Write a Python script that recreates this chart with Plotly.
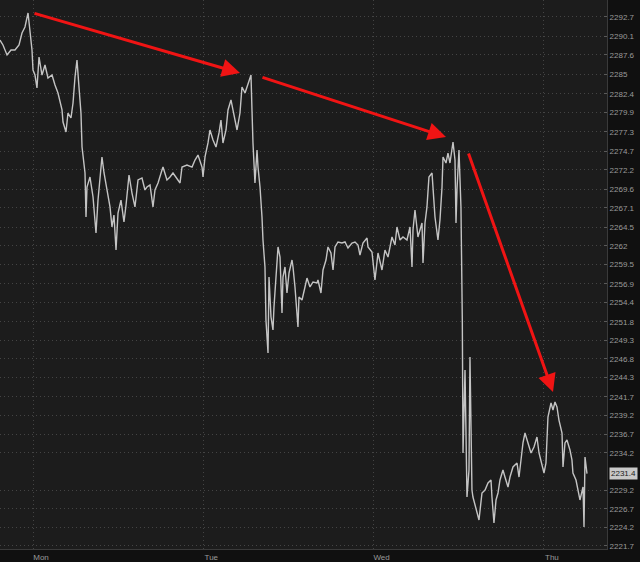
import plotly.graph_objects as go

# Time in hours from Monday 00:00, price in index points
hours = [-4.65, -4.23, -3.66, -3.10, -2.54, -1.97, -1.55, -1.13, -0.70, -0.28, -0.14,
         0.00, 0.28, 0.56, 0.85, 1.27, 1.69, 2.11, 2.68, 3.10, 3.52, 4.09, 4.23, 4.65,
         4.93, 5.35, 5.64, 5.92, 6.20, 6.48, 6.76, 6.91, 7.05, 7.33, 7.47, 7.61, 8.03,
         8.46, 8.88, 9.16, 9.72, 10.01, 10.43, 10.85, 11.13, 11.41, 11.70, 11.98, 12.40,
         12.82, 13.11, 13.53, 13.95, 14.37, 14.80, 15.36, 15.78, 16.06, 16.49, 16.91,
         17.19, 17.62, 18.18, 18.32, 18.88, 19.31, 19.73, 20.29, 20.72, 21.00, 21.70,
         22.41, 22.83, 23.25, 23.82, 23.96, 24.24, 24.66, 24.94, 25.37, 25.79, 26.21,
         26.49, 26.77, 27.20, 27.48, 27.90, 28.18, 28.75, 29.17, 29.45, 29.88, 30.30,
         30.72, 30.86, 31.00, 31.28, 31.57, 31.71, 31.99, 32.27, 32.41, 32.69, 32.83,
         33.12, 33.26, 33.54, 33.82, 33.96, 34.24, 34.53, 34.81, 35.09, 35.23, 35.51,
         35.79, 36.08, 36.50, 36.64, 36.92, 37.20, 37.34, 37.48, 37.91, 38.33, 38.61,
         39.03, 39.46, 40.02, 40.16, 40.58, 40.87, 41.29, 41.57, 41.99, 42.28, 42.56,
         42.98, 43.54, 43.97, 44.39, 44.95, 45.38, 45.80, 46.08, 46.50, 47.07, 47.21,
         47.77, 48.19, 48.62, 49.18, 49.60, 50.03, 50.59, 51.01, 51.29, 51.72, 52.14,
         52.70, 53.13, 53.41, 53.55, 53.83, 54.25, 54.82, 54.96, 55.24, 55.52, 55.80,
         56.23, 56.37, 56.65, 57.07, 57.35, 57.64, 57.78, 58.20, 58.48, 58.76, 59.19,
         59.47, 59.61, 59.75, 60.03, 60.31, 60.45, 60.50, 60.60, 60.88, 61.16, 61.44,
         61.58, 61.72, 61.86, 62.00, 62.29, 62.57, 62.85, 63.27, 63.70, 64.12, 64.54,
         64.68, 64.96, 65.25, 65.53, 65.81, 66.23, 66.51, 66.94, 67.22, 67.64, 68.21,
         68.49, 68.77, 69.05, 69.33, 69.76, 70.18, 70.60, 71.02, 71.31, 71.73, 72.01,
         72.29, 72.43, 72.57, 73.00, 73.28, 73.56, 73.84, 74.12, 74.55, 74.69, 74.97,
         75.25, 75.67, 75.95, 76.09, 76.52, 76.80, 77.08, 77.51, 77.65, 77.79, 78.07]

prices = [2289.61, 2288.94, 2287.60, 2288.27, 2288.27, 2288.94, 2290.55, 2291.36, 2293.24, 2290.01, 2288.27,
          2285.58, 2284.91, 2283.17, 2287.33, 2284.91, 2286.26, 2284.51, 2284.91, 2283.57, 2282.50, 2280.22, 2278.60, 2277.26,
          2279.81, 2279.14, 2281.15, 2284.64, 2286.93, 2283.30, 2279.81, 2275.25, 2273.91, 2271.76, 2265.85, 2269.88, 2271.22,
          2268.54, 2263.71, 2268.13, 2273.91, 2271.76, 2269.48, 2267.20, 2264.51, 2266.12, 2261.42, 2266.39, 2268.13,
          2265.18, 2267.46, 2271.49, 2269.07, 2267.20, 2270.82, 2271.09, 2269.48, 2269.88, 2270.15, 2267.20,
          2269.48, 2270.42, 2272.16, 2272.56, 2270.82, 2271.22, 2271.76, 2271.09, 2270.42, 2272.56, 2272.83,
          2272.56, 2273.50, 2274.17, 2272.56, 2271.22, 2273.91, 2275.79, 2277.53, 2276.19, 2275.25, 2277.13,
          2278.87, 2275.79, 2277.53, 2280.22, 2281.56, 2280.22, 2277.53, 2279.81, 2283.30, 2282.50, 2283.57,
          2284.91, 2280.22, 2275.79, 2270.42, 2274.85, 2272.56, 2269.88, 2265.85, 2262.77, 2259.14, 2252.03,
          2247.60, 2257.80, 2252.43, 2250.69, 2253.77, 2257.80, 2261.83, 2260.48, 2252.97, 2257.80, 2259.14,
          2255.65, 2258.34, 2260.08, 2259.14, 2256.46, 2252.97, 2251.09, 2255.11, 2254.71, 2256.46, 2257.66,
          2256.46, 2257.13, 2256.99, 2257.40, 2255.65, 2258.74, 2260.08, 2261.83, 2261.02, 2258.74, 2261.83,
          2262.50, 2262.36, 2262.50, 2261.69, 2262.36, 2262.50, 2262.09, 2260.75, 2262.36, 2263.03, 2261.83,
          2261.16, 2257.40, 2261.02, 2258.74, 2261.42, 2260.48, 2263.17, 2262.09, 2264.51, 2262.77, 2263.17,
          2262.77, 2264.51, 2259.14, 2264.11, 2266.79, 2263.17, 2265.05, 2259.68, 2265.05, 2267.20, 2271.22,
          2271.76, 2269.48, 2265.85, 2262.77, 2265.45, 2269.88, 2273.91, 2273.10, 2274.44, 2273.10, 2275.92,
          2273.50, 2265.05, 2269.48, 2274.85, 2267.20, 2257.40, 2252.03, 2234.18, 2245.32, 2228.27, 2231.89,
          2247.06, 2237.26, 2229.21, 2228.27, 2227.20, 2226.52, 2225.18, 2228.81, 2229.21, 2230.15, 2230.55,
          2228.27, 2224.78, 2227.87, 2228.81, 2230.55, 2231.89, 2230.95, 2229.61, 2230.95, 2232.30, 2232.83,
          2230.95, 2233.24, 2235.52, 2236.86, 2235.52, 2234.18, 2234.98, 2236.32, 2234.18, 2232.30, 2231.49,
          2232.83, 2235.92, 2239.01, 2240.89, 2239.95, 2241.02, 2240.35, 2238.60, 2236.86, 2232.30, 2235.52,
          2235.92, 2234.58, 2233.24, 2231.49, 2230.55, 2229.21, 2227.87, 2229.61, 2224.24, 2233.64, 2231.40]

day_ticks = [0, 24, 48, 72]
day_labels = ["Mon", "Tue", "Wed", "Thu"]

price_ticks = [2292.7, 2290.1, 2287.6, 2285, 2282.4, 2279.9, 2277.3, 2274.7, 2272.2, 2269.6,
               2267.1, 2264.5, 2262, 2259.5, 2256.9, 2254.4, 2251.8, 2249.3, 2246.8, 2244.3,
               2241.7, 2239.2, 2236.7, 2234.2, 2229.2, 2226.7, 2224.2, 2221.7]
price_labels = ["2292.7", "2290.1", "2287.6", "2285", "2282.4", "2279.9", "2277.3", "2274.7", "2272.2", "2269.6",
                "2267.1", "2264.5", "2262", "2259.5", "2256.9", "2254.4", "2251.8", "2249.3", "2246.8", "2244.3",
                "2241.7", "2239.2", "2236.7", "2234.2", "2229.2", "2226.7", "2224.2", "2221.7"]

last_price = 2231.4

# Arrow annotations (tail -> head) in data coordinates
arrows = [
    ((0.0, 2293.24), (29.17, 2285.18)),
    ((32.13, 2284.65), (58.20, 2276.59)),
    ((61.30, 2274.58), (73.28, 2242.36)),
]

fig = go.Figure()
fig.add_trace(go.Scatter(x=hours, y=prices, mode="lines",
                         line=dict(color="#c4c4c4", width=1.4), hoverinfo="skip"))

for (tx, ty), (hx, hy) in arrows:
    fig.add_annotation(x=hx, y=hy, ax=tx, ay=ty, xref="x", yref="y", axref="x", ayref="y",
                       text="", showarrow=True, arrowhead=2, arrowsize=1.2, arrowwidth=3,
                       arrowcolor="#f01414", standoff=0, startstandoff=0)

fig.add_annotation(x=1, xref="paper", xanchor="left", xshift=2, y=last_price, yref="y",
                   text=f"{last_price}", showarrow=False,
                   font=dict(family="Liberation Sans, Arial", size=8, color="#1a1a1a"),
                   bgcolor="#c8c8c8", borderpad=1)

fig.update_layout(
    width=640, height=562,
    margin=dict(l=0, r=33, t=0, b=13),
    paper_bgcolor="#101010",
    plot_bgcolor="#1c1c1c",
    showlegend=False,
    xaxis=dict(range=[-4.65, 80.89], tickvals=day_ticks, ticktext=day_labels,
               showgrid=True, gridcolor="#444444", griddash="1px,3px", gridwidth=1,
               zeroline=False, showline=True, linecolor="#3a3a3a", linewidth=1,
               ticks="", ticklabelshift=8, automargin=False,
               tickfont=dict(family="Liberation Sans, Arial", size=8, color="#9a9a9a")),
    yaxis=dict(range=[2221.29, 2294.98], side="right", tickvals=price_ticks, ticktext=price_labels,
               showgrid=True, gridcolor="#444444", griddash="1px,3px", gridwidth=1,
               zeroline=False, showline=True, linecolor="#3a3a3a", linewidth=1,
               ticks="inside", ticklen=3, tickcolor="#5a5a5a", automargin=False,
               tickfont=dict(family="Liberation Sans, Arial", size=8, color="#9a9a9a")),
)

fig.write_html("out.html", config={"displayModeBar": False},
               post_script="document.body.style.margin='0';document.body.style.background='#101010';")
